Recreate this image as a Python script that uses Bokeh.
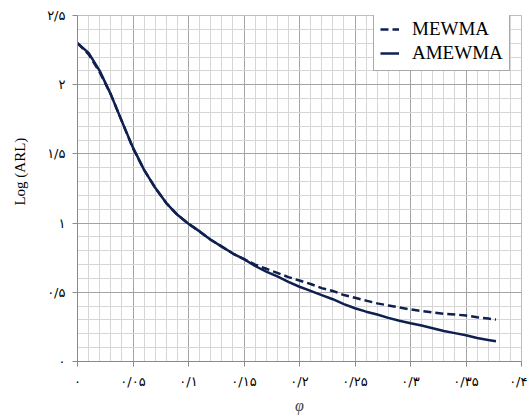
from bokeh.plotting import figure
from bokeh.models import (Range1d, FixedTicker, CustomJSTickFormatter, Legend,
                          LegendItem)
from bokeh.embed import file_html
from bokeh.resources import INLINE

# ---- data ----
phi = [0.00, 0.01, 0.02, 0.03, 0.04, 0.05, 0.06, 0.07, 0.08, 0.09, 0.10,
       0.11, 0.12, 0.13, 0.14, 0.15, 0.16, 0.17, 0.18, 0.19, 0.20, 0.21,
       0.22, 0.23, 0.24, 0.25, 0.26, 0.27, 0.28, 0.29, 0.30, 0.31, 0.32,
       0.33, 0.34, 0.35, 0.36, 0.37, 0.377]
mewma = [2.30, 2.22, 2.09, 1.93, 1.735, 1.54, 1.385, 1.255, 1.145, 1.06, 0.995,
         0.94, 0.88, 0.83, 0.78, 0.74, 0.70, 0.67, 0.64, 0.61, 0.585, 0.56,
         0.53, 0.51, 0.48, 0.46, 0.44, 0.42, 0.405, 0.39, 0.376, 0.365, 0.355,
         0.345, 0.34, 0.332, 0.32, 0.31, 0.303]
amewma = [2.30, 2.23, 2.10, 1.93, 1.735, 1.545, 1.385, 1.255, 1.145, 1.06, 0.995,
          0.94, 0.88, 0.83, 0.78, 0.74, 0.69, 0.65, 0.615, 0.575, 0.54, 0.51,
          0.48, 0.45, 0.415, 0.385, 0.36, 0.34, 0.315, 0.295, 0.277, 0.26, 0.24,
          0.22, 0.205, 0.19, 0.17, 0.155, 0.147]

x_ticks = [0.0, 0.05, 0.1, 0.15, 0.2, 0.25, 0.3, 0.35, 0.4]
x_tick_labels = ["۰", "۰/۰۵", "۰/۱", "۰/۱۵", "۰/۲", "۰/۲۵", "۰/۳", "۰/۳۵", "۰/۴"]
y_ticks = [0.0, 0.5, 1.0, 1.5, 2.0, 2.5]
y_tick_labels = ["۰", "۰/۵", "۱", "۱/۵", "۲", "۲/۵"]
x_minor = [i * 0.01 for i in range(41)]
y_minor = [i * 0.1 for i in range(26)]

LINE = "#0f1f50"
serif = "Liberation Serif"

p = figure(width=527, height=416, output_backend="svg", toolbar_location=None,
           x_range=Range1d(0, 0.4), y_range=Range1d(0, 2.5),
           min_border_left=77, min_border_right=6, min_border_top=15,
           min_border_bottom=55)
p.background_fill_color = "white"
p.border_fill_color = "white"
p.outline_line_color = "#bdbdbd"

p.xaxis.ticker = FixedTicker(ticks=x_ticks, minor_ticks=x_minor)
p.yaxis.ticker = FixedTicker(ticks=y_ticks, minor_ticks=y_minor)
p.xaxis.formatter = CustomJSTickFormatter(args=dict(labels=x_tick_labels),
                                          code="return labels[index];")
p.yaxis.formatter = CustomJSTickFormatter(args=dict(labels=y_tick_labels),
                                          code="return labels[index];")

for ax in (p.xaxis, p.yaxis):
    ax.axis_line_color = "#8a8a8a"
    ax.major_tick_line_color = "#8a8a8a"
    ax.major_tick_out = 5
    ax.major_tick_in = 0
    ax.minor_tick_line_color = None
    ax.major_label_text_font = "DejaVu Sans"
    ax.major_label_text_font_size = "13px"
    ax.major_label_text_color = "black"

p.xaxis.major_label_standoff = 7
p.yaxis.major_label_standoff = 7

p.xaxis.axis_label = "φ"
p.xaxis.axis_label_text_font = serif
p.xaxis.axis_label_text_font_style = "italic"
p.xaxis.axis_label_text_font_size = "16px"
p.xaxis.axis_label_standoff = 5

# leading no-break spaces shift the rotated label upward, as in the reference
p.yaxis.axis_label = "\u00a0" * 9 + "Log (ARL)"
p.yaxis.axis_label_text_font = serif
p.yaxis.axis_label_text_font_style = "normal"
p.yaxis.axis_label_text_font_size = "15px"
p.yaxis.axis_label_text_color = "black"
p.yaxis.axis_label_standoff = 16

p.xgrid.grid_line_color = "#a3a3a3"
p.ygrid.grid_line_color = "#a3a3a3"
p.xgrid.minor_grid_line_color = "#d6d6d6"
p.ygrid.minor_grid_line_color = "#d6d6d6"

r1 = p.line(phi, mewma, line_color=LINE, line_width=2.5, line_dash="8 4")
r2 = p.line(phi, amewma, line_color=LINE, line_width=2.5)

legend = Legend(items=[LegendItem(label="MEWMA", renderers=[r1]),
                       LegendItem(label="AMEWMA", renderers=[r2])],
                location=(296, 290))
legend.label_text_font = serif
legend.label_text_font_size = "19px"
legend.label_text_color = "black"
legend.border_line_color = "#555555"
legend.border_line_width = 1
legend.background_fill_color = "white"
legend.background_fill_alpha = 1
legend.glyph_width = 19
legend.glyph_height = 20
legend.label_height = 20
legend.label_standoff = 13
legend.spacing = 2
legend.padding = 6
legend.margin = 0
p.add_layout(legend)

open("out.html", "w").write(file_html(p, INLINE))
